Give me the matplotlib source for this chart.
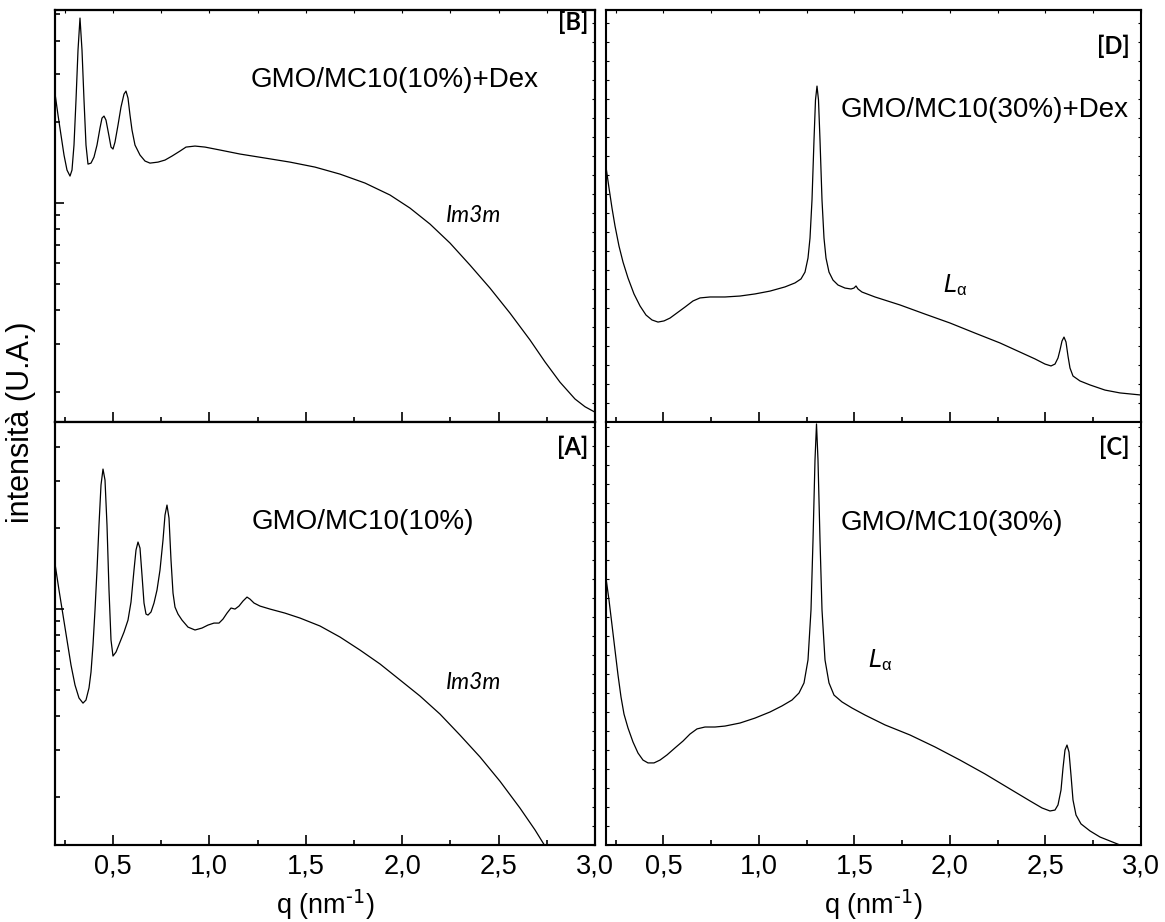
import matplotlib
matplotlib.use('Agg')
import matplotlib.pyplot as plt
from matplotlib.ticker import MultipleLocator, LogLocator, NullFormatter, FixedLocator, FixedFormatter

plt.rcParams['font.family'] = ['Liberation Sans', 'DejaVu Sans']
plt.rcParams['mathtext.default'] = 'regular'

# ---------------- data (q in nm^-1, intensity in arbitrary units) ----------------
q_B = [0.2026, 0.2156, 0.2311, 0.2467, 0.2622, 0.2778, 0.2881, 0.2985, 0.3089, 0.3193,
       0.3296, 0.3400, 0.3504, 0.3607, 0.3711, 0.3867, 0.4022, 0.4178, 0.4333, 0.4437,
       0.4541, 0.4644, 0.4800, 0.4904, 0.5007, 0.5111, 0.5267, 0.5422, 0.5578, 0.5681,
       0.5785, 0.5889, 0.5993, 0.6148, 0.6407, 0.6667, 0.6926, 0.7341, 0.7704, 0.8067,
       0.8481, 0.8793, 0.9259, 0.9778, 1.0556, 1.1593, 1.2889, 1.4185, 1.5481, 1.6778,
       1.8074, 1.9370, 2.0407, 2.1444, 2.2481, 2.3519, 2.4556, 2.5593, 2.6630, 2.7407,
       2.8185, 2.8963, 2.9481, 3.0000]
I_B = [2.470, 2.118, 1.786, 1.506, 1.325, 1.259, 1.325, 1.640, 2.407, 3.687,
       4.845, 3.687, 2.407, 1.640, 1.394, 1.406, 1.480, 1.640, 1.896, 2.064,
       2.100, 2.029, 1.771, 1.612, 1.585, 1.682, 1.944, 2.268, 2.533, 2.599,
       2.448, 2.118, 1.864, 1.640, 1.506, 1.431, 1.406, 1.418, 1.443, 1.493,
       1.558, 1.612, 1.626, 1.612, 1.572, 1.519, 1.468, 1.418, 1.359, 1.280,
       1.186, 1.071, 0.958, 0.836, 0.711, 0.589, 0.484, 0.391, 0.311, 0.258,
       0.217, 0.188, 0.176, 0.168]

q_A = [0.2026, 0.2207, 0.2415, 0.2622, 0.2830, 0.3037, 0.3244, 0.3452, 0.3607, 0.3763,
       0.3867, 0.3970, 0.4074, 0.4178, 0.4281, 0.4385, 0.4489, 0.4593, 0.4696, 0.4800,
       0.4904, 0.5007, 0.5163, 0.5370, 0.5578, 0.5785, 0.5941, 0.6096, 0.6200, 0.6304,
       0.6407, 0.6511, 0.6615, 0.6719, 0.6822, 0.6978, 0.7133, 0.7289, 0.7444, 0.7600,
       0.7704, 0.7807, 0.7911, 0.8015, 0.8119, 0.8222, 0.8378, 0.8585, 0.8896, 0.9259,
       0.9622, 0.9933, 1.0244, 1.0504, 1.0711, 1.0919, 1.1126, 1.1333, 1.1541, 1.1748,
       1.1956, 1.2111, 1.2319, 1.2630, 1.3148, 1.3926, 1.4704, 1.5741, 1.6778, 1.7815,
       1.8852, 1.9889, 2.0926, 2.1963, 2.3000, 2.4037, 2.5074, 2.6111, 2.6889, 2.7407,
       2.7667]
I_A = [1.433, 1.177, 0.950, 0.767, 0.619, 0.522, 0.467, 0.447, 0.459, 0.509,
       0.583, 0.735, 0.991, 1.396, 2.053, 2.891, 3.315, 3.017, 2.053, 1.177,
       0.767, 0.669, 0.692, 0.754, 0.821, 0.910, 1.062, 1.396, 1.657, 1.775,
       1.686, 1.338, 1.053, 0.958, 0.950, 0.975, 1.053, 1.177, 1.396, 1.805,
       2.236, 2.436, 2.179, 1.521, 1.147, 1.017, 0.958, 0.910, 0.857, 0.836,
       0.850, 0.872, 0.887, 0.887, 0.918, 0.966, 1.009, 1.000, 1.026, 1.071,
       1.108, 1.089, 1.053, 1.026, 1.000, 0.966, 0.926, 0.865, 0.787, 0.704,
       0.625, 0.545, 0.475, 0.407, 0.340, 0.282, 0.229, 0.182, 0.151, 0.1315,
       0.1218]

q_D = [0.2000, 0.2157, 0.2314, 0.2471, 0.2680, 0.2890, 0.3151, 0.3465, 0.3779, 0.4093,
       0.4407, 0.4721, 0.5036, 0.5350, 0.5716, 0.6135, 0.6553, 0.6920, 0.7443, 0.8228,
       0.9013, 0.9798, 1.0583, 1.1368, 1.1892, 1.2206, 1.2415, 1.2572, 1.2677, 1.2781,
       1.2886, 1.2964, 1.3043, 1.3121, 1.3200, 1.3305, 1.3409, 1.3514, 1.3671, 1.3880,
       1.4142, 1.4508, 1.4822, 1.4979, 1.5084, 1.5189, 1.5398, 1.6079, 1.7387, 1.8695,
       2.0004, 2.1312, 2.2620, 2.3667, 2.4452, 2.4975, 2.5290, 2.5499, 2.5656, 2.5761,
       2.5865, 2.5970, 2.6075, 2.6179, 2.6284, 2.6441, 2.6807, 2.7331, 2.8116, 2.8901,
       3.0000]
I_D = [13.42, 12.32, 11.26, 10.32, 9.26, 8.42, 7.58, 6.74, 6.11, 5.63,
       5.37, 5.26, 5.32, 5.47, 5.74, 6.05, 6.37, 6.53, 6.58, 6.58,
       6.63, 6.74, 6.89, 7.11, 7.32, 7.53, 7.89, 8.63, 9.68, 11.68,
       14.84, 16.95, 17.68, 16.95, 14.84, 11.68, 9.68, 8.63, 7.89, 7.47,
       7.21, 7.05, 7.00, 7.05, 7.16, 7.00, 6.84, 6.58, 6.16, 5.68,
       5.21, 4.68, 4.16, 3.68, 3.32, 3.05, 2.95, 3.05, 3.37, 3.79,
       4.26, 4.47, 4.21, 3.47, 2.84, 2.42, 2.16, 1.95, 1.68, 1.53,
       1.42]

q_C = [0.2000, 0.2157, 0.2314, 0.2471, 0.2628, 0.2785, 0.2942, 0.3151, 0.3413, 0.3675,
       0.3936, 0.4198, 0.4512, 0.4826, 0.5192, 0.5611, 0.6030, 0.6396, 0.6763, 0.7181,
       0.7705, 0.8228, 0.9013, 0.9798, 1.0583, 1.1211, 1.1735, 1.2101, 1.2363, 1.2572,
       1.2729, 1.2834, 1.2938, 1.3017, 1.3095, 1.3200, 1.3305, 1.3462, 1.3671, 1.3933,
       1.4351, 1.4875, 1.5555, 1.6602, 1.7910, 1.9219, 2.0527, 2.1835, 2.3144, 2.4190,
       2.4818, 2.5237, 2.5499, 2.5656, 2.5813, 2.5918, 2.6022, 2.6127, 2.6232, 2.6336,
       2.6441, 2.6598, 2.6860, 2.7331, 2.7854, 2.8378, 2.8901, 2.9320]
I_C = [14.05, 12.89, 11.58, 10.26, 8.95, 7.79, 6.89, 6.16, 5.42, 4.84,
       4.47, 4.32, 4.32, 4.47, 4.74, 5.11, 5.47, 5.84, 6.11, 6.21,
       6.21, 6.26, 6.42, 6.68, 7.00, 7.32, 7.63, 8.00, 8.53, 9.74,
       12.37, 16.05, 20.26, 22.16, 20.26, 16.05, 12.37, 9.74, 8.53, 7.89,
       7.53, 7.21, 6.84, 6.32, 5.79, 5.16, 4.47, 3.74, 2.95, 2.32,
       1.95, 1.79, 1.84, 2.11, 2.89, 4.05, 5.00, 5.26, 4.89, 3.68,
       2.37, 1.58, 1.11, 0.74, 0.42, 0.21, 0.00, -0.16]

x_major = [0.5, 1.0, 1.5, 2.0, 2.5, 3.0]
x_labels = ['0,5', '1,0', '1,5', '2,0', '2,5', '3,0']
x_minor = [0.25, 0.75, 1.25, 1.75, 2.25, 2.75]

# ---------------- figure ----------------
fig = plt.figure(figsize=(11.65, 9.22), dpi=100)
W, H = 1165.0, 922.0

def rect(x0, x1, ytop, ybot):
    return [x0 / W, (H - ybot) / H, (x1 - x0) / W, (ybot - ytop) / H]

axB = fig.add_axes(rect(55, 595, 10, 422))
axA = fig.add_axes(rect(55, 595, 422, 845))
axD = fig.add_axes(rect(606, 1141, 10, 422))
axC = fig.add_axes(rect(606, 1141, 422, 845))

LW_SPINE = 1.5

def style_x(ax, bottom_panel):
    ax.set_xlim(0.2, 3.0)
    ax.xaxis.set_major_locator(FixedLocator(x_major))
    ax.xaxis.set_major_formatter(FixedFormatter(x_labels))
    ax.xaxis.set_minor_locator(FixedLocator(x_minor))
    ax.tick_params(axis='x', which='major', direction='in', length=7, width=1.2,
                   top=False, bottom=True, labelbottom=bottom_panel, labelsize=19.5, pad=6)
    ax.tick_params(axis='x', which='minor', direction='in', length=3.5, width=1.2,
                   top=False, bottom=True)
    if not bottom_panel:
        sec = ax.secondary_xaxis('top')
        sec.xaxis.set_major_locator(FixedLocator(x_major + x_minor))
        sec.tick_params(axis='x', direction='in', length=2.0, width=0.8, labeltop=False)
        sec.spines['top'].set_linewidth(LW_SPINE)
    for s in ax.spines.values():
        s.set_linewidth(LW_SPINE)

def style_log_y(ax, ylim, npx):
    ax.set_yscale('log')
    ax.set_ylim(*ylim)
    ax.yaxis.set_major_locator(LogLocator(base=10))
    ax.yaxis.set_minor_locator(LogLocator(base=10, subs=[2, 3, 4, 5, 6, 7, 8, 9]))
    ax.yaxis.set_major_formatter(NullFormatter())
    ax.yaxis.set_minor_formatter(NullFormatter())
    ax.tick_params(axis='y', which='major', direction='in', length=6.5, width=1.2,
                   left=True, right=False, labelleft=False)
    ax.tick_params(axis='y', which='minor', direction='in', length=3.5, width=1.2,
                   left=True, right=False, labelleft=False)
    tw = ax.twinx()
    tw.set_ylim(0, npx / 19.0)
    tw.yaxis.set_major_locator(MultipleLocator(1))
    tw.tick_params(axis='y', direction='in', length=2.0, width=0.8, labelright=False)
    for s in tw.spines.values():
        s.set_linewidth(LW_SPINE)

def style_lin_y(ax, ytop):
    ax.set_ylim(0, ytop)
    ax.yaxis.set_major_locator(MultipleLocator(1))
    ax.tick_params(axis='y', which='major', direction='in', length=2.0, width=0.8,
                   left=True, right=True, labelleft=False, labelright=False)
    ax.tick_params(axis='y', which='minor', left=False, right=False)

# curves
for ax, q, I in [(axB, q_B, I_B), (axA, q_A, I_A), (axD, q_D, I_D), (axC, q_C, I_C)]:
    ax.plot(q, I, color='black', lw=0.9, solid_joinstyle='round', antialiased=True)

style_x(axB, False)
style_x(axD, False)
style_x(axA, True)
style_x(axC, True)
style_log_y(axB, (0.1545, 5.19), 412)
style_log_y(axA, (0.1327, 4.96), 423)
style_lin_y(axD, 412 / 19.0)
style_lin_y(axC, 423 / 19.0)

# ---------------- annotations ----------------
lab_font = dict(family=['Lato', 'DejaVu Sans'], fontweight='bold', fontsize=17)
ital_font = dict(family=['Lato', 'DejaVu Sans'], style='italic', fontsize=16.5)
main_fs = 20

axB.text(0.987, 0.971, '[B]', transform=axB.transAxes, ha='right', va='center', **lab_font)
axA.text(0.987, 0.941, '[A]', transform=axA.transAxes, ha='right', va='center', **lab_font)
axD.text(0.979, 0.913, '[D]', transform=axD.transAxes, ha='right', va='center', **lab_font)
axC.text(0.979, 0.941, '[C]', transform=axC.transAxes, ha='right', va='center', **lab_font)

axB.text(0.629, 0.830, 'GMO/MC10(10%)+Dex', transform=axB.transAxes, ha='center', va='center', fontsize=main_fs)
axA.text(0.570, 0.764, 'GMO/MC10(10%)', transform=axA.transAxes, ha='center', va='center', fontsize=main_fs)
axD.text(0.707, 0.757, 'GMO/MC10(30%)+Dex', transform=axD.transAxes, ha='center', va='center', fontsize=main_fs)
axC.text(0.647, 0.761, 'GMO/MC10(30%)', transform=axC.transAxes, ha='center', va='center', fontsize=main_fs)

axB.text(0.775, 0.502, 'Im3m', transform=axB.transAxes, ha='center', va='center', **ital_font)
axA.text(0.775, 0.383, 'Im3m', transform=axA.transAxes, ha='center', va='center', **ital_font)
axD.text(0.652, 0.333, r'$\mathit{L}_{\alpha}$', transform=axD.transAxes, ha='center', va='center', fontsize=17)
axC.text(0.512, 0.437, r'$\mathit{L}_{\alpha}$', transform=axC.transAxes, ha='center', va='center', fontsize=17)

xlab = r'q (nm$^{\text{-1}}$)'
fig.text(325 / W, (H - 905) / H, xlab, ha='center', va='center', fontsize=19.5)
fig.text(873 / W, (H - 905) / H, xlab, ha='center', va='center', fontsize=19.5)
fig.text(21 / W, (H - 422) / H, 'intensità (U.A.)', ha='center', va='center', rotation=90, fontsize=22)

fig.savefig('out.png', dpi=100)
